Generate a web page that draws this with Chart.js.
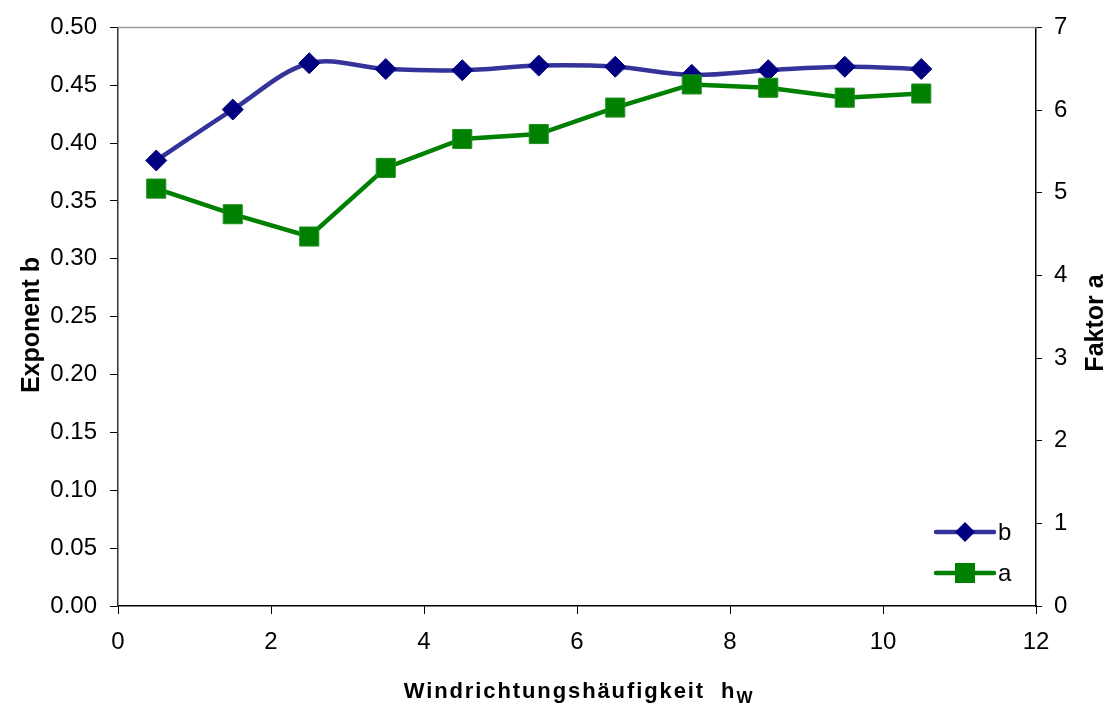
<!DOCTYPE html>
<html lang="de">
<head>
<meta charset="utf-8">
<title>Exponent b und Faktor a</title>
<script src="https://cdn.jsdelivr.net/npm/chart.js@4.4.1/dist/chart.umd.min.js"></script>
<style>
  html, body { margin: 0; padding: 0; background: #fff; }
  #wrap { width: 1113px; height: 706px; }
</style>
</head>
<body>
<div id="wrap"><canvas id="chart" width="1113" height="706"></canvas></div>
<script>
// Windrichtungshäufigkeit (x)
const xValues = [0.5, 1.5, 2.5, 3.5, 4.5, 5.5, 6.5, 7.5, 8.5, 9.5, 10.5];
// Exponent b (linke Achse)
const bValues = [0.385, 0.429, 0.469, 0.464, 0.463, 0.467, 0.466, 0.459, 0.463, 0.466, 0.464];
// Faktor a (rechte Achse)
const aValues = [5.05, 4.74, 4.47, 5.30, 5.65, 5.71, 6.03, 6.31, 6.27, 6.15, 6.20];

const xTicks = [0, 2, 4, 6, 8, 10, 12];
const bTicks = [0, 0.05, 0.10, 0.15, 0.20, 0.25, 0.30, 0.35, 0.40, 0.45, 0.50];
const aTicks = [0, 1, 2, 3, 4, 5, 6, 7];

const FONT = '"Liberation Sans", Arial, sans-serif';
const BLUE_LINE = '#333399';
const BLUE_MARK = '#000080';
const GREEN = '#008000';

function toPoints(xs, ys) {
  return xs.map((x, i) => ({ x: x, y: ys[i] }));
}

// Rahmenlinie oben (grau)
const topBorder = {
  id: 'topBorder',
  beforeDatasetsDraw(chart) {
    const { ctx, chartArea } = chart;
    ctx.save();
    ctx.strokeStyle = '#999';
    ctx.lineWidth = 1.5;
    ctx.beginPath();
    ctx.moveTo(chartArea.left, chartArea.top);
    ctx.lineTo(chartArea.right, chartArea.top);
    ctx.stroke();
    ctx.restore();
  }
};

// Achsentitel
const axisTitles = {
  id: 'axisTitles',
  afterDraw(chart) {
    const { ctx, chartArea } = chart;
    ctx.save();
    ctx.fillStyle = '#000';
    ctx.textBaseline = 'alphabetic';

    // x-Titel mit Index
    const main = 'Windrichtungshäufigkeit  h';
    ctx.letterSpacing = '1.9px';
    ctx.font = 'bold 22px ' + FONT;
    const wMain = ctx.measureText(main).width;
    ctx.font = 'bold 17px ' + FONT;
    const wSub = ctx.measureText('W').width;
    const cx = (chartArea.left + chartArea.right) / 2 + 2;
    const x0 = cx - (wMain + wSub) / 2;
    ctx.textAlign = 'left';
    ctx.font = 'bold 22px ' + FONT;
    ctx.fillText(main, x0, 698);
    ctx.font = 'bold 17px ' + FONT;
    ctx.fillText('W', x0 + wMain, 703);
    ctx.letterSpacing = '0px';

    // linke y-Achse
    ctx.font = 'bold 25px ' + FONT;
    ctx.textAlign = 'center';
    ctx.save();
    ctx.translate(38.5, 325);
    ctx.rotate(-Math.PI / 2);
    ctx.fillText('Exponent b', 0, 0);
    ctx.restore();

    // rechte y-Achse
    ctx.save();
    ctx.translate(1103, 323);
    ctx.rotate(-Math.PI / 2);
    ctx.fillText('Faktor a', 0, 0);
    ctx.restore();
    ctx.restore();
  }
};

// Legende unten rechts im Diagramm
const insideLegend = {
  id: 'insideLegend',
  afterDraw(chart) {
    const { ctx } = chart;
    const items = [
      { label: 'b', y: 532, line: BLUE_LINE, mark: BLUE_MARK, shape: 'diamond' },
      { label: 'a', y: 573, line: GREEN, mark: GREEN, shape: 'square' }
    ];
    ctx.save();
    items.forEach(it => {
      ctx.strokeStyle = it.line;
      ctx.lineWidth = 4.5;
      ctx.lineCap = 'round';
      ctx.beginPath();
      ctx.moveTo(936, it.y);
      ctx.lineTo(994, it.y);
      ctx.stroke();
      ctx.fillStyle = it.mark;
      ctx.beginPath();
      if (it.shape === 'diamond') {
        ctx.moveTo(965, it.y - 10);
        ctx.lineTo(975, it.y);
        ctx.lineTo(965, it.y + 10);
        ctx.lineTo(955, it.y);
        ctx.closePath();
      } else {
        ctx.rect(955, it.y - 10, 20, 20);
      }
      ctx.fill();
      ctx.fillStyle = '#000';
      ctx.font = '24px ' + FONT;
      ctx.textAlign = 'left';
      ctx.textBaseline = 'middle';
      ctx.fillText(it.label, 998, it.y + 1);
    });
    ctx.restore();
  }
};

const ctx = document.getElementById('chart').getContext('2d');
new Chart(ctx, {
  type: 'line',
  data: {
    datasets: [
      {
        label: 'a',
        data: toPoints(xValues, aValues),
        yAxisID: 'yA',
        order: 0,
        borderColor: GREEN,
        borderWidth: 4.5,
        tension: 0,
        pointStyle: 'rect',
        pointRadius: 13.5,
        pointBackgroundColor: GREEN,
        pointBorderColor: '#1f8f1f',
        pointBorderWidth: 1
      },
      {
        label: 'b',
        data: toPoints(xValues, bValues),
        yAxisID: 'yB',
        order: 1,
        borderColor: BLUE_LINE,
        borderWidth: 4.5,
        tension: 0.35,
        pointStyle: 'rectRot',
        pointRadius: 10.5,
        pointBackgroundColor: BLUE_MARK,
        pointBorderColor: BLUE_MARK,
        pointBorderWidth: 1
      }
    ]
  },
  options: {
    responsive: false,
    animation: false,
    layout: { padding: { top: 25, right: 0, left: 0, bottom: 0 } },
    plugins: {
      legend: { display: false },
      tooltip: { enabled: false }
    },
    scales: {
      x: {
        type: 'linear',
        position: 'bottom',
        min: 0,
        max: 12,
        afterFit: s => { s.height = 100; },
        afterBuildTicks: s => { s.ticks = xTicks.map(v => ({ value: v })); },
        ticks: {
          color: '#000',
          font: { family: FONT, size: 24 },
          padding: 14,
          maxRotation: 0
        },
        grid: { drawOnChartArea: false, tickLength: 8, color: '#000', lineWidth: 1 },
        border: { color: '#000', width: 1.5 }
      },
      yB: {
        type: 'linear',
        position: 'left',
        min: 0,
        max: 0.5,
        afterFit: s => { s.width = 118; },
        afterBuildTicks: s => { s.ticks = bTicks.map(v => ({ value: v })); },
        ticks: {
          color: '#000',
          font: { family: FONT, size: 24 },
          padding: 13,
          callback: v => Number(v).toFixed(2)
        },
        grid: { drawOnChartArea: false, tickLength: 8, color: '#000', lineWidth: 1 },
        border: { color: '#333', width: 1.5 }
      },
      yA: {
        type: 'linear',
        position: 'right',
        min: 0,
        max: 7,
        afterFit: s => { s.width = 77; },
        afterBuildTicks: s => { s.ticks = aTicks.map(v => ({ value: v })); },
        ticks: {
          color: '#000',
          font: { family: FONT, size: 24 },
          padding: 12
        },
        grid: { drawOnChartArea: false, tickLength: 6, color: '#000', lineWidth: 1 },
        border: { color: '#000', width: 1.5 }
      }
    }
  },
  plugins: [topBorder, axisTitles, insideLegend]
});
</script>
</body>
</html>
